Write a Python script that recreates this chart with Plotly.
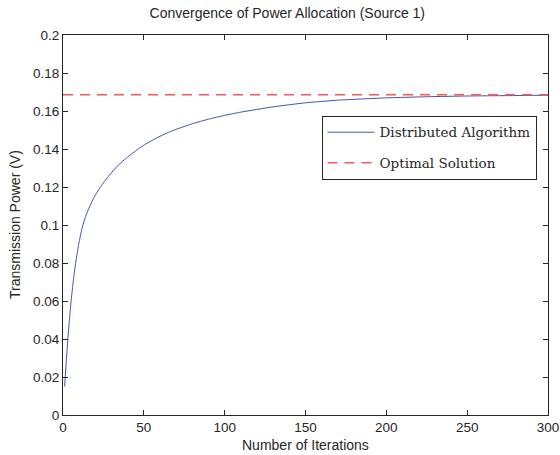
import plotly.graph_objects as go

iterations = [1, 2, 3, 4, 5, 6, 7, 8, 10, 12, 14, 16, 18, 20, 22, 25, 28, 32, 36, 40, 46, 50,
              55, 60, 68, 80, 90, 100, 110, 130, 150, 170, 200, 225, 250, 275, 300]
power = [0.015, 0.028, 0.040, 0.0505, 0.0598, 0.0678, 0.0748, 0.0810, 0.0912, 0.0990, 0.1045,
         0.1088, 0.1125, 0.1157, 0.1185, 0.1222, 0.1255, 0.1295, 0.1329, 0.1358, 0.1397, 0.1420,
         0.1445, 0.1467, 0.1497, 0.1533, 0.1557, 0.1577, 0.1594, 0.1622, 0.1643, 0.1657,
         0.1669, 0.1675, 0.1679, 0.1681, 0.1683]
optimal_value = 0.1686
x_range = [0, 300]
y_range = [0, 0.2]

FONT = "Liberation Sans, Arial"
TXT = "#262626"

fig = go.Figure()
fig.add_trace(go.Scatter(
    x=iterations, y=power, mode="lines", name="Distributed Algorithm",
    line=dict(color="#3a55b4", width=1, shape="spline", smoothing=0.5),
    legendgroup="a",
))
fig.add_trace(go.Scatter(
    x=x_range, y=[optimal_value, optimal_value], mode="lines", name="Optimal Solution",
    line=dict(color="#f05a5a", width=1.5, dash="10px,7px"),
    legendgroup="b",
))

axis_common = dict(
    showline=True, linecolor=TXT, linewidth=1, mirror="ticks",
    ticks="inside", ticklen=5, tickcolor=TXT, showgrid=False, zeroline=False,
    automargin=False,
    tickfont=dict(family=FONT, size=13.5, color=TXT),
)

fig.update_layout(
    width=560, height=455,
    margin=dict(l=63, r=12, t=35, b=40),
    paper_bgcolor="white", plot_bgcolor="white",
    title=dict(text="Convergence of Power Allocation (Source 1)", x=0.513, xanchor="center",
               y=1 - 13 / 455, yanchor="middle",
               font=dict(family=FONT, size=14, color=TXT)),
    xaxis=dict(range=x_range, tick0=0, dtick=50, **axis_common),
    yaxis=dict(range=y_range, tick0=0, dtick=0.02, **axis_common),
    legend=dict(x=0.533, y=0.787, xanchor="left", yanchor="top",
                bordercolor=TXT, borderwidth=1, bgcolor="white",
                font=dict(family="DejaVu Serif, Liberation Serif", size=13.5, color=TXT),
                itemwidth=47, tracegroupgap=10, traceorder="grouped"),
    annotations=[
        dict(text="Number of Iterations", xref="paper", yref="paper", x=0.5, y=-0.08,
             xanchor="center", yanchor="middle", showarrow=False,
             font=dict(family=FONT, size=14, color=TXT)),
        dict(text="Transmission Power (V)", xref="paper", yref="paper", x=-48 / 485, y=0.5,
             xanchor="center", yanchor="middle", showarrow=False, textangle=-90,
             font=dict(family=FONT, size=14, color=TXT)),
    ],
)

fig.write_html("out.html", config={"displayModeBar": False},
               post_script="document.body.style.margin='0';document.body.style.padding='0';")
